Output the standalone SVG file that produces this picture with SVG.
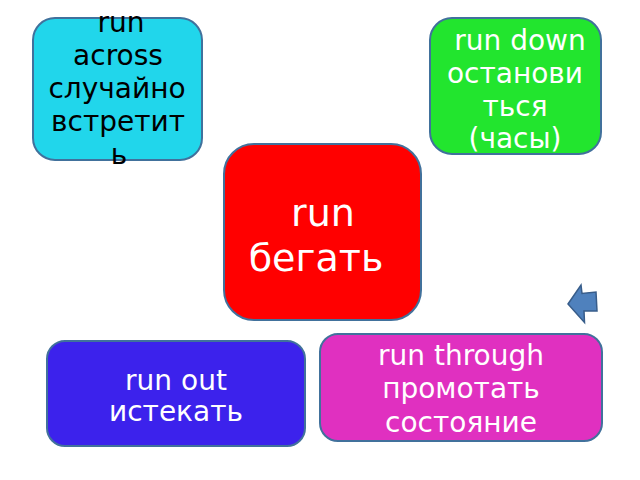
<svg xmlns="http://www.w3.org/2000/svg" width="640" height="480" viewBox="0 0 640 480">
<style>
.box{stroke:#41719C;stroke-width:2}
text{font-family:"DejaVu Sans","Noto Sans",sans-serif;font-size:28px;text-anchor:middle}
.w{fill:#FFFFFF}
.k{fill:#000000}
</style>
<rect width="640" height="480" fill="#FFFFFF"/>
<g id="node-across">
<rect class="box" x="33" y="18" width="169" height="142" rx="22" fill="#21D6EB"/>
<text class="k"><tspan x="121" y="32">run</tspan><tspan x="118" y="65">across</tspan><tspan x="117" y="98">случайно</tspan><tspan x="118" y="131">встретит</tspan><tspan x="119" y="164">ь</tspan></text>
</g>
<g id="node-down">
<rect class="box" x="430" y="18" width="171" height="136" rx="22" fill="#22E52E"/>
<text class="w"><tspan x="520" y="50">run down</tspan><tspan x="515" y="83">останови</tspan><tspan x="515" y="116">ться</tspan><tspan x="515" y="148">(часы)</tspan></text>
</g>
<g id="node-run">
<rect class="box" x="224" y="144" width="197" height="176" rx="30" fill="#FF0000"/>
<text class="w" style="font-size:38px"><tspan x="323" y="226">run</tspan><tspan x="316" y="271">бегать</tspan></text>
</g>
<g id="node-out">
<rect class="box" x="47" y="341" width="258" height="105" rx="18" fill="#3C22EC"/>
<text class="w"><tspan x="176" y="390">run out</tspan><tspan x="176" y="421">истекать</tspan></text>
</g>
<g id="node-through">
<rect class="box" x="320" y="334" width="282" height="107" rx="18" fill="#E030C0"/>
<text class="w"><tspan x="461" y="365">run through</tspan><tspan x="461" y="398">промотать</tspan><tspan x="461" y="432">состояние</tspan></text>
</g>
<g id="connectors">
<polygon points="568,304 581,285 582,293.5 596,292 597,311 584,311 584.5,322.5" fill="#4F81BD" stroke="#385D8A" stroke-width="1.5" stroke-linejoin="miter"/>
</g>
</svg>
